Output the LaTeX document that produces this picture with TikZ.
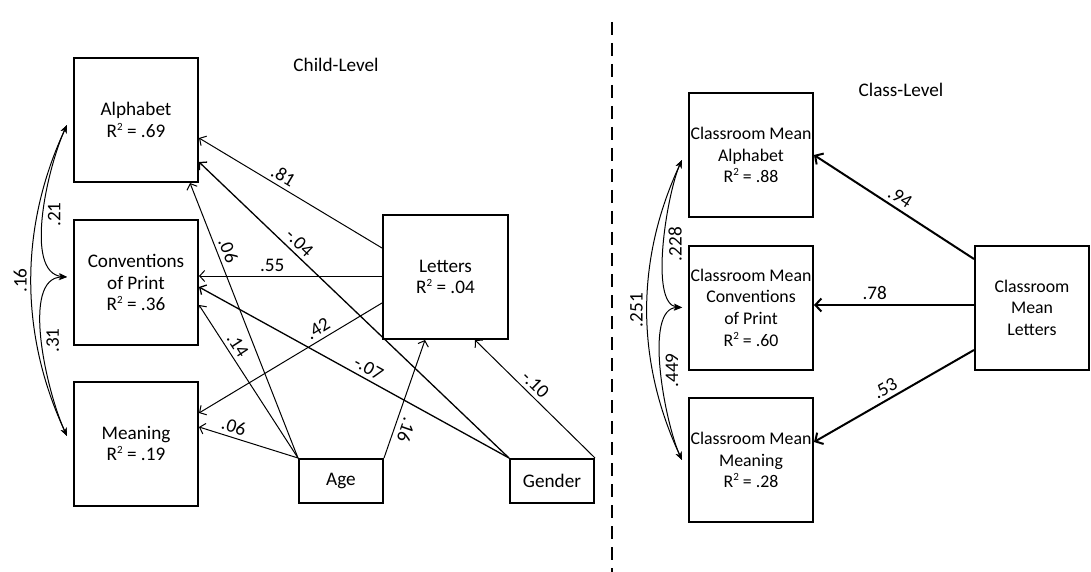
\documentclass[tikz,border=0pt]{standalone}
\usepackage{fontspec}
\setmainfont{Carlito}
\usetikzlibrary{arrows.meta,calc}
\newcommand{\Rsq}{R\raisebox{0.8ex}{\fontsize{5.5}{6}\selectfont 2}}

\begin{document}
\begin{tikzpicture}[x=0.5pt, y=0.5pt, font=\fontsize{9.6}{10.8}\selectfont,
	var/.style={draw, line width=1pt, minimum width=62pt, minimum height=62pt, inner sep=0pt, align=center},
	classvar/.style={var, font=\fontsize{8.9}{10.8}\selectfont},
	obs/.style={draw, line width=1pt, minimum width=42pt, minimum height=22pt, inner sep=0pt},
	effect/.style={-{Straight Barb[length=2.5pt,width=5.5pt]}, line width=0.5pt},
	classeffect/.style={-{Straight Barb[length=3pt,width=6.5pt]}, line width=1pt},
	covar/.style={{Stealth[length=4pt,width=3.2pt]}-{Stealth[length=4pt,width=3.2pt]}, line width=0.5pt},
	coef/.style={sloped, above, inner sep=2pt},
	covlbl/.style={midway, rotate=90, inner sep=2pt}]
	\useasboundingbox (0,0) rectangle (1091,-572);

	\node (childlbl) at (336,-65) {Child-Level};
	\node[var] (Alph) at (136,-120) {Alphabet\\\Rsq{} = .69};
	\node[var] (Conv) at (136,-282.5) {Conventions\\of Print\\\Rsq{} = .36};
	\node[var] (Mean) at (136,-443.5) {Meaning\\\Rsq{} = .19};
	\node[var, minimum width=62.5pt] (Lett) at (445.5,-277) {Letters\\\Rsq{} = .04};
	\node[obs] (Age) at (341,-481) {Age};
	\node[obs] (Gend) at (552,-481) {Gender};

	\draw[effect] ($(Lett.west)+(0,29)$) to node[coef, pos=0.57] {.81} ($(Alph.east)+(0,-18)$);
	\draw[effect, line width=0.65pt] (Gend.north west) to node[coef, pos=0.7] {-.04} ($(Alph.east)+(0,-42)$);
	\draw[effect] (Age.north west) to node[coef, pos=0.74] {.06} ($(Alph.south)+(54,0)$);
	\draw[effect] ($(Lett.west)+(0,1)$) to node[coef, pos=0.6] {.55} ($(Conv.east)+(0,6.5)$);
	\draw[effect, line width=0.65pt] (Gend.north west) to node[coef, pos=0.47] {-.07} ($(Conv.east)+(0,-4.5)$);
	\draw[effect] (Age.north west) to node[coef, pos=0.7] {.14} ($(Conv.east)+(0,-22.5)$);
	\draw[effect] ($(Lett.west)+(0,-26)$) to node[coef, pos=0.32] {.42} ($(Mean.east)+(0,30.5)$);
	\draw[effect] (Age.north west) to node[coef, pos=0.68] {.06} ($(Mean.east)+(0,16.5)$);
	\draw[effect] (Age.north east) to node[above, inner sep=2.5pt, rotate=-109, pos=0.27] {.16} ($(Lett.south)+(-20.5,0)$);
	\draw[effect] (Gend.north east) to node[coef, pos=0.56] {-.10} ($(Lett.south)+(29.5,0)$);

	\draw[covar] ($(Alph.west)+(-6,-5)$) to[out=245, in=175, looseness=0.75] node[covlbl, below] {.21} ($(Conv.west)+(-6,5.5)$);
	\draw[covar] ($(Alph.west)+(-6,-5)$) to[out=245, in=115, looseness=0.93] node[covlbl, above] {.16} ($(Mean.west)+(-6,7.5)$);
	\draw[covar] ($(Conv.west)+(-6,5.5)$) to[out=180, in=115, looseness=0.76] node[covlbl, below] {.31} ($(Mean.west)+(-6,7.5)$);

	\coordinate (divtop) at (612,-22);
	\coordinate (divbot) at (612,-572);
	\draw[line width=0.9pt, dash pattern=on 6.5pt off 4pt] (divtop) -- (divbot);

	\node (classlbl) at (901,-90) {Class-Level};
	\node[classvar] (CMAlph) at (751,-155) {Classroom Mean\\Alphabet\\\Rsq{} = .88};
	\node[classvar] (CMConv) at (751,-307.5) {Classroom Mean\\Conventions\\of Print\\\Rsq{} = .60};
	\node[classvar] (CMMean) at (751,-460) {Classroom Mean\\Meaning\\\Rsq{} = .28};
	\node[classvar, minimum width=57pt] (CMLett) at (1032,-307.5) {Classroom\\Mean\\Letters};

	\draw[classeffect] ($(CMLett.west)+(0,48.5)$) to node[coef, pos=0.5] {.94} (CMAlph.east);
	\draw[classeffect] ($(CMLett.west)+(0,2.5)$) to node[coef, pos=0.62] {.78} ($(CMConv.east)+(0,2.5)$);
	\draw[classeffect] ($(CMLett.west)+(0,-42.5)$) to node[coef, pos=0.52] {.53} ($(CMMean.east)+(0,18)$);

	\draw[covar] ($(CMAlph.west)+(-6,-5)$) to[out=245, in=175, looseness=0.59] node[covlbl, below] {.228} ($(CMConv.west)+(-6,0)$);
	\draw[covar] ($(CMAlph.west)+(-6,-5)$) to[out=245, in=115, looseness=0.94] node[covlbl, above] {.251} ($(CMMean.west)+(-6,0)$);
	\draw[covar] ($(CMConv.west)+(-6,0)$) to[out=180, in=115, looseness=0.66] node[covlbl, below] {.449} ($(CMMean.west)+(-6,0)$);
\end{tikzpicture}
\end{document}
